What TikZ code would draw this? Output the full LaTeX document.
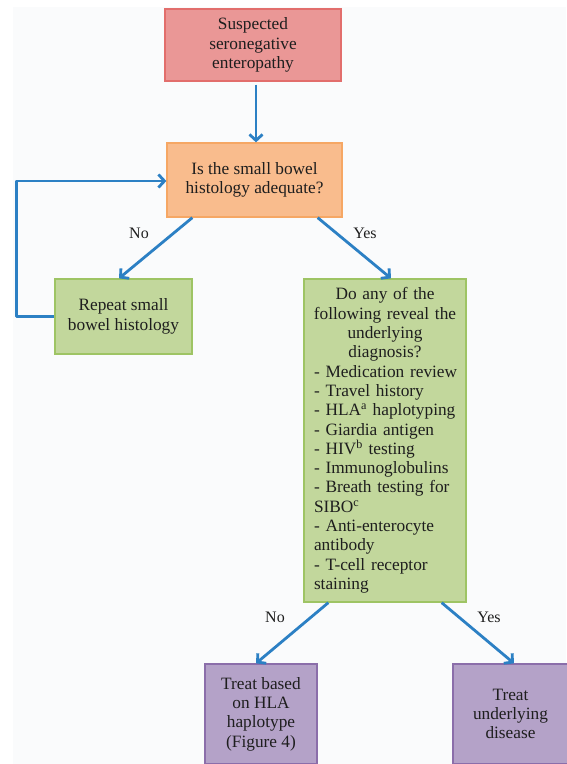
\documentclass[tikz,border=0pt]{standalone}
\usepackage{fontspec}
\setmainfont{Liberation Serif}
\usetikzlibrary{arrows.meta,calc}
\definecolor{redfill}{RGB}{234,151,150}
\definecolor{redline}{RGB}{226,110,108}
\definecolor{orfill}{RGB}{249,188,141}
\definecolor{orline}{RGB}{246,167,100}
\definecolor{grfill}{RGB}{194,215,156}
\definecolor{grline}{RGB}{158,196,100}
\definecolor{pufill}{RGB}{180,162,200}
\definecolor{puline}{RGB}{139,110,170}
\definecolor{arr}{RGB}{44,128,196}
\definecolor{bg}{RGB}{250,251,252}
\definecolor{txt}{RGB}{30,30,30}
\begin{document}
\begin{tikzpicture}[x=1pt,y=-1pt,
  box/.style={rectangle, draw, line width=1.3pt, inner sep=0pt, align=center,
    font=\fontsize{17.3}{19.3}\selectfont, text=txt},
  conn/.style={arr, line width=2.8pt, line join=round,
    -{Straight Barb[length=6pt,width=13pt]}},
  lbl/.style={font=\fontsize{16}{18}\selectfont, text=txt}]
\useasboundingbox (0,0) rectangle (566,764);
\fill[bg] (13,7) rectangle (566,764);

\node[box, fill=redfill, draw=redline, minimum width=176pt, minimum height=72pt] (s) at (253,45)
  {Suspected\\seronegative\\enteropathy};
\node[box, fill=orfill, draw=orline, minimum width=175pt, minimum height=74pt] (o) at (254.5,180)
  {Is the small bowel\\histology adequate?};
\node[box, fill=grfill, draw=grline, minimum width=137pt, minimum height=75pt] (rs) at (123.5,316.5)
  {Repeat small\\bowel histology};
\node[box, fill=grfill, draw=grline, minimum width=162pt, minimum height=323pt,
  text width=154pt, align=left] (q) at (385,440.5)
  {{\parindent=0pt\centering Do any of the\\following reveal the\\underlying\\diagnosis?\par}%
   \noindent\leftskip=6pt\relax
   - Medication review\\
   - Travel history\\
   - HLA\textsuperscript{a} haplotyping\\
   - Giardia antigen\\
   - HIV\textsuperscript{b} testing\\
   - Immunoglobulins\\
   - Breath testing for\\
   SIBO\textsuperscript{c}\\
   - Anti-enterocyte\\
   antibody\\
   - T-cell receptor\\
   staining\par};
\node[box, fill=pufill, draw=puline, minimum width=112pt, minimum height=100pt] (tl) at (261,714)
  {Treat based\\on HLA\\haplotype\\(Figure 4)};
\node[box, fill=pufill, draw=puline, minimum width=115pt, minimum height=100pt] (tr) at (510.5,714)
  {Treat\\underlying\\disease};

\coordinate (sd) at ($(s.south)+(3,3)$);
\draw[conn] (sd) -- (sd |- o.north);
\draw[conn] ($(o.south west)+(26,0)$) -- ($(rs.north)+(-4.5,0)$);
\draw[conn] ($(o.south east)+(-25,0)$) -- ($(q.north)+(6,0)$);
\draw[conn] (rs.west) -- ++(-38,0) |- ($(o.west)+(0,1)$);
\draw[conn] ($(q.south west)+(25,0)$) -- ($(tl.north)+(-5,0)$);
\draw[conn] ($(q.south east)+(-25,0)$) -- ($(tr.north)+(3.5,0)$);

\node[lbl] (no1) at (139,233) {No};
\node[lbl] (yes1) at (365,233) {Yes};
\node[lbl] (no2) at (275,617) {No};
\node[lbl] (yes2) at (489,617) {Yes};
\end{tikzpicture}
\end{document}
